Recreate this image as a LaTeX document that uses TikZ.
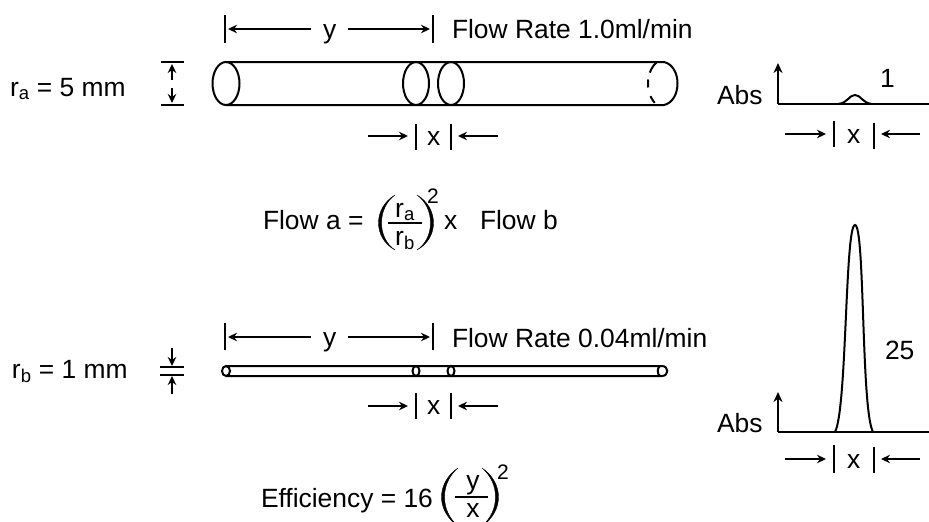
\documentclass[tikz,border=0pt]{standalone}
\usepackage{fontspec}
\setmainfont{Liberation Sans}
\usetikzlibrary{arrows.meta}

\tikzset{
    label/.style={anchor=base west,inner sep=0pt,outer sep=0pt,font=\fontsize{26.4}{30}\selectfont},
    frac/.style={anchor=base,inner sep=0pt,outer sep=0pt,font=\fontsize{26.4}{30}\selectfont},
    square/.style={anchor=base west,inner sep=0pt,outer sep=0pt,font=\fontsize{21}{24}\selectfont},
    tube/.style={line width=2pt},
    tick/.style={line width=1.7pt},
    dim/.style={line width=1.4pt,-{Stealth[length=9pt,width=8.5pt]}},
    axis/.style={line width=2pt},
    paren/.style={fill=black,draw=black,line width=0.4pt}
}

\begin{document}
\begin{tikzpicture}[x=1pt,y=-1pt]
    \useasboundingbox (0,0) rectangle (929,522);

    % Define the points of the wide tube
    \coordinate (A1) at (226,62);
    \coordinate (A2) at (226,105);
    \coordinate (A3) at (664,62);
    \coordinate (A4) at (664,105);

    % Draw the wide tube
    \draw[tube] (A1) -- (A3) .. controls (682,66) and (682,101) .. (A4) -- (A2);
    \draw[tube] (226,83.5) ellipse [x radius=13.5pt,y radius=21.5pt];
    \draw[tube] (416,83.5) ellipse [x radius=13pt,y radius=21.5pt];
    \draw[tube] (451,83.5) ellipse [x radius=13pt,y radius=21.5pt];
    \draw[tube,dash pattern=on 13pt off 7pt on 8pt off 9pt on 8pt] (657,62) .. controls (645,72) and (645,95) .. (657,105);

    % Define the points of the narrow tube
    \coordinate (B1) at (226,366);
    \coordinate (B2) at (226,376);
    \coordinate (B3) at (662,366);
    \coordinate (B4) at (662,376);

    % Draw the narrow tube
    \draw[tube] (B1) -- (B3) .. controls (669,366) and (669,376) .. (B4) -- (B2);
    \draw[tube] (226,371) ellipse [x radius=4pt,y radius=5pt];
    \draw[tube] (416,371) ellipse [x radius=3.5pt,y radius=5pt];
    \draw[tube] (451,371) ellipse [x radius=3.5pt,y radius=5pt];
    \draw[tube] (660,366) .. controls (657,368) and (657,374) .. (660,376);

    % Place the radius labels
    \node (ra) at (10,96) [label] {r\textsubscript{a} = 5 mm};
    \node (rb) at (12,378) [label] {r\textsubscript{b} = 1 mm};

    % Draw the radius marks
    \coordinate (ra1) at (161,62);
    \coordinate (ra2) at (184,62);
    \coordinate (ra3) at (161,105);
    \coordinate (ra4) at (184,105);
    \coordinate (ra5) at (172,80);
    \coordinate (ra6) at (172,64);
    \coordinate (ra7) at (172,88);
    \coordinate (ra8) at (172,103);
    \draw[tick] (ra1) -- (ra2);
    \draw[tick] (ra3) -- (ra4);
    \draw[dim] (ra5) -- (ra6);
    \draw[dim] (ra7) -- (ra8);

    \coordinate (rb1) at (160,367);
    \coordinate (rb2) at (184,367);
    \coordinate (rb3) at (160,375);
    \coordinate (rb4) at (184,375);
    \coordinate (rb5) at (172,348);
    \coordinate (rb6) at (172,366);
    \coordinate (rb7) at (172,394);
    \coordinate (rb8) at (172,376);
    \draw[tick] (rb1) -- (rb2);
    \draw[tick] (rb3) -- (rb4);
    \draw[dim] (rb5) -- (rb6);
    \draw[dim] (rb7) -- (rb8);

    % Draw the y spans
    \node (ya) at (323,38) [label] {y};
    \node (yb) at (323,346) [label] {y};
    \coordinate (ya1) at (225,15);
    \coordinate (ya2) at (225,43);
    \coordinate (ya3) at (433,15);
    \coordinate (ya4) at (433,43);
    \draw[tick] (ya1) -- (ya2);
    \draw[tick] (ya3) -- (ya4);
    \draw[dim] (311,29) -- (228,29);
    \draw[dim] (348,29) -- (430,29);
    \coordinate (yb1) at (225,323);
    \coordinate (yb2) at (225,350);
    \coordinate (yb3) at (433,323);
    \coordinate (yb4) at (433,350);
    \draw[tick] (yb1) -- (yb2);
    \draw[tick] (yb3) -- (yb4);
    \draw[dim] (311,337) -- (228,337);
    \draw[dim] (348,337) -- (430,337);

    % Draw the x spans below the tubes
    \node (xa) at (427,145) [label] {x};
    \node (xb) at (427,414) [label] {x};
    \draw[tick] (416,124) -- (416,150);
    \draw[tick] (451,124) -- (451,150);
    \draw[dim] (368,136) -- (408,136);
    \draw[dim] (498,136) -- (458,136);
    \draw[tick] (416,393) -- (416,419);
    \draw[tick] (451,393) -- (451,419);
    \draw[dim] (368,406) -- (408,406);
    \draw[dim] (498,406) -- (458,406);

    % Place the flow rates
    \node (fa) at (452,38) [label] {Flow Rate 1.0ml/min};
    \node (fb) at (452,347) [label] {Flow Rate 0.04ml/min};

    % Draw the small peak
    \node (absa) at (717,104) [label] {Abs};
    \node (one) at (880,87) [label] {1};
    \coordinate (C1) at (778,63);
    \coordinate (C2) at (778,104);
    \coordinate (C3) at (929,104);
    \draw[axis,-{Stealth[length=10pt,width=9pt]}] (C2) -- (C1);
    \draw[axis] (C2) -- (C3);
    \draw[axis] (838,104) .. controls (848,103) and (849,95) .. (855,95) .. controls (861,95) and (862,103) .. (872,104);
    \node (xc) at (847,143) [label] {x};
    \draw[tick] (834,121) -- (834,147);
    \draw[tick] (874,123) -- (874,149);
    \draw[dim] (785,134) -- (826,134);
    \draw[dim] (920,134) -- (881,134);

    % Draw the tall peak
    \node (absb) at (717,432) [label] {Abs};
    \node (tf) at (885,359) [label] {25};
    \coordinate (D1) at (778,392);
    \coordinate (D2) at (778,432);
    \coordinate (D3) at (929,432);
    \draw[axis,-{Stealth[length=10pt,width=9pt]}] (D2) -- (D1);
    \draw[axis] (D2) -- (D3);
    \draw[axis] (835,432) .. controls (847,410) and (845,225) .. (855,225) .. controls (865,225) and (861,410) .. (873,432);
    \node (xd) at (847,468) [label] {x};
    \draw[tick] (834,445) -- (834,473);
    \draw[tick] (874,447) -- (874,473);
    \draw[dim] (785,459) -- (826,459);
    \draw[dim] (920,459) -- (881,459);

    % Place the flow formula
    \node (floweq) at (263,229) [label] {Flow a =};
    \node (rfa) at (405,217) [frac] {r\textsubscript{a}};
    \node (rfb) at (405,245) [frac] {r\textsubscript{b}};
    \draw[axis] (388,223) -- (422,223);
    \fill[paren] (395,195) .. controls (373,208) and (373,238) .. (395,250) .. controls (377,238) and (377,208) .. cycle;
    \fill[paren] (417,195) .. controls (439,208) and (439,238) .. (417,250) .. controls (435,238) and (435,208) .. cycle;
    \node (sqa) at (427,203) [square] {2};
    \node (times) at (444,229) [label] {x};
    \node (flowb) at (480,229) [label] {Flow b};

    % Place the efficiency formula
    \node (effeq) at (261,507) [label] {Efficiency = 16};
    \node (fy) at (473,489) [frac] {y};
    \node (fx) at (473,517) [frac] {x};
    \draw[axis] (455,497) -- (488,497);
    \fill[paren] (458,468) .. controls (436,483) and (436,511) .. (458,526) .. controls (440,511) and (440,483) .. cycle;
    \fill[paren] (482,468) .. controls (504,483) and (504,511) .. (482,526) .. controls (500,511) and (500,483) .. cycle;
    \node (sqb) at (497,479) [square] {2};
\end{tikzpicture}
\end{document}
